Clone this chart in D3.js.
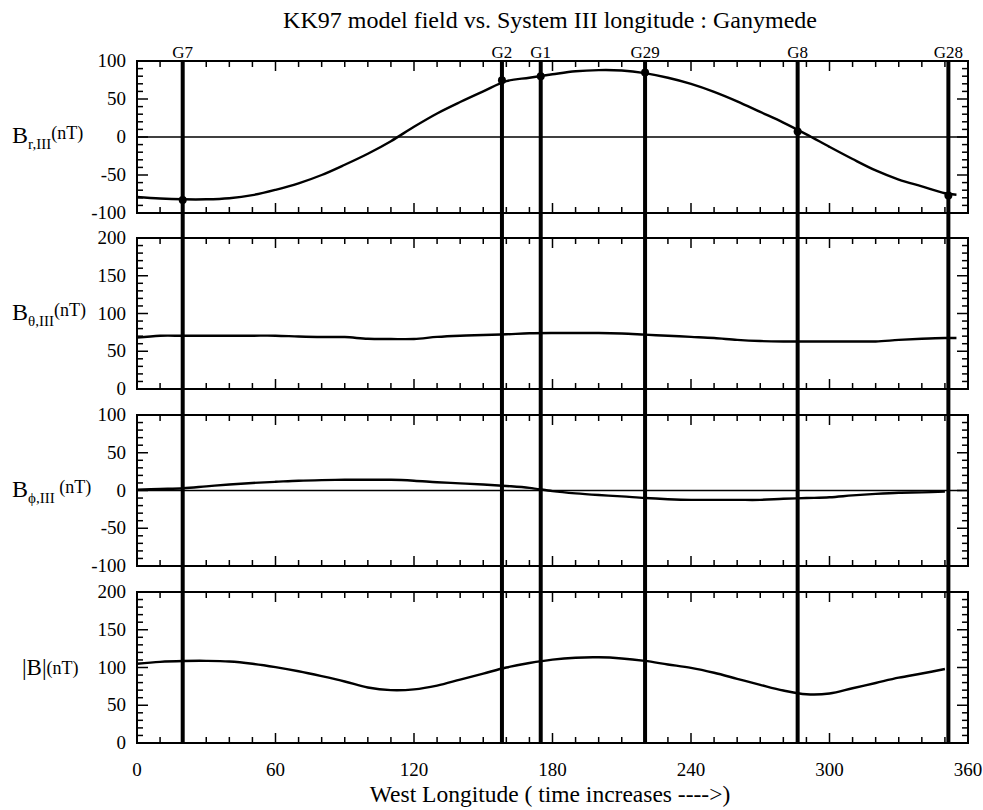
<!DOCTYPE html>
<html><head><meta charset="utf-8">
<script src="https://cdn.jsdelivr.net/npm/d3@7"></script>
<style>body{margin:0;background:#fff}</style>
</head><body><svg id="c" width="983" height="810" font-family="'Liberation Serif', 'DejaVu Serif', serif"></svg>
<script>
const lon = [0,10,20,30,40,50,60,70,80,90,100,110,120,130,140,150,160,170,180,190,200,210,220,230,240,250,260,270,280,290,300,310,320,330,340,350,355];
const Br = [-79,-81,-82,-82,-80.5,-76.5,-69.5,-61,-50,-36.5,-22,-5.5,13.5,31,46,60,73.5,78,82.5,86.5,88,87.5,84,78,70,59.5,47,33,19,3.5,-13,-29,-44,-56,-65,-74,-76];
const Btheta = [68,70.5,70.5,70.6,70.6,70.6,70.6,69.5,68.8,68.8,66.5,66.2,66.2,69,70.6,71.5,72.5,73.8,74.2,74.2,74.2,73.5,72,70.5,69,67.5,65,63.5,63,63,63,63,63,65,66.5,67.5,67.5];
const Bphi = [1,2,3,5.5,8,10,11.5,13,13.8,14.2,14.2,14.2,13,11,9.5,8,6,3.5,-0.8,-3.8,-6,-7.8,-10,-11.5,-12.4,-12.4,-12.4,-12.4,-11,-10,-9,-6.5,-4.5,-3,-2.5,-1.5,null];
const Bmag = [105,107.5,108.6,108.8,108,105,100.5,95,88.5,81.5,73.5,70,71,76,84,92,100,106,110.5,113,113.5,112,108.7,104,99.5,93,85,77,69.5,64.5,65.5,72.5,79.5,86.5,92,98,null];
const flybyNames = ["G7","G2","G1","G29","G8","G28"];
const flybyLon = [19.8,158.1,174.9,220.1,286.2,351.5];
const flybyBr = [-83,74.7,80,85,7.2,-77];
const xTicks = [0,60,120,180,240,300,360];

const svg = d3.select("#c");
const L = 137, R = 968;
const x = d3.scaleLinear().domain([0,360]).range([L,R]);
const panels = [
  {top:61, bot:213, dom:[-100,100], ticks:[-100,-50,0,50,100], data:Br, zero:true, lab:["B","r,III","(nT)",""]},
  {top:238, bot:389, dom:[0,200], ticks:[0,50,100,150,200], data:Btheta, zero:false, lab:["B","θ,III","(nT)",""]},
  {top:415, bot:566, dom:[-100,100], ticks:[-100,-50,0,50,100], data:Bphi, zero:true, lab:["B","ϕ,III","(nT)"," "]},
  {top:592, bot:743, dom:[0,200], ticks:[0,50,100,150,200], data:Bmag, zero:false, lab:null}
];

svg.append("text").attr("x",550).attr("y",28).attr("text-anchor","middle").attr("font-size",24)
  .text("KK97 model field vs. System III longitude : Ganymede");

panels.forEach((p,i)=>{
  const y = d3.scaleLinear().domain(p.dom).range([p.bot,p.top]);
  p.y = y;
  const g = svg.append("g");
  const xt = d3.range(0,361,10);
  xt.forEach(v=>{
    const len = v%60===0?10:6;
    g.append("line").attr("x1",x(v)).attr("x2",x(v)).attr("y1",p.top).attr("y2",p.top+len).attr("stroke","#000").attr("stroke-width",1.5);
    g.append("line").attr("x1",x(v)).attr("x2",x(v)).attr("y1",p.bot).attr("y2",p.bot-len).attr("stroke","#000").attr("stroke-width",1.5);
  });
  const yt = d3.range(p.dom[0],p.dom[1]+1,10);
  yt.forEach(v=>{
    const len = v%50===0?11:6;
    g.append("line").attr("x1",L).attr("x2",L+len).attr("y1",y(v)).attr("y2",y(v)).attr("stroke","#000").attr("stroke-width",1.5);
    g.append("line").attr("x1",R).attr("x2",R-len).attr("y1",y(v)).attr("y2",y(v)).attr("stroke","#000").attr("stroke-width",1.5);
  });
  p.ticks.forEach(v=>{
    g.append("text").attr("x",126).attr("y",y(v)+6).attr("text-anchor","end").attr("font-size",19).text(v);
  });
  if(p.zero){
    g.append("line").attr("x1",L).attr("x2",R).attr("y1",y(0)).attr("y2",y(0)).attr("stroke","#000").attr("stroke-width",1.5);
  }
  const line = d3.line().defined(d=>d[1]!==null).x(d=>x(d[0])).y(d=>y(d[1])).curve(d3.curveCatmullRom.alpha(0.5));
  g.append("path").datum(lon.map((l,k)=>[l,p.data[k]])).attr("d",line).attr("fill","none").attr("stroke","#000").attr("stroke-width",2.4);
  g.append("rect").attr("x",L).attr("y",p.top).attr("width",R-L).attr("height",p.bot-p.top).attr("fill","none").attr("stroke","#000").attr("stroke-width",2);
  const cy = (p.top+p.bot)/2;
  if(p.lab){
    const t = g.append("text").attr("x",12).attr("y",cy+6).attr("font-size",24);
    t.append("tspan").text(p.lab[0]);
    t.append("tspan").attr("font-size",15).attr("dy",6).text(p.lab[1]);
    t.append("tspan").attr("font-size",18).attr("dy",-10).text(p.lab[3]+p.lab[2]);
  } else {
    g.append("text").attr("x",22).attr("y",cy+7).attr("font-size",23).text("|B|")
      .append("tspan").attr("font-size",18).attr("dy",-1).text("(nT)");
  }
});

flybyLon.forEach((v,i)=>{
  svg.append("line").attr("x1",x(v)).attr("x2",x(v)).attr("y1",panels[0].top).attr("y2",panels[3].bot).attr("stroke","#000").attr("stroke-width",4);
  svg.append("text").attr("x",x(v)).attr("y",58).attr("text-anchor","middle").attr("font-size",17).text(flybyNames[i]);
  svg.append("circle").attr("cx",x(v)).attr("cy",panels[0].y(flybyBr[i])).attr("r",4).attr("fill","#000");
});

xTicks.forEach(v=>{
  svg.append("text").attr("x",x(v)).attr("y",776).attr("text-anchor","middle").attr("font-size",19).text(v);
});
svg.append("text").attr("x",550).attr("y",802).attr("text-anchor","middle").attr("font-size",23.5)
  .text("West Longitude ( time increases ---->)");
</script></body></html>
